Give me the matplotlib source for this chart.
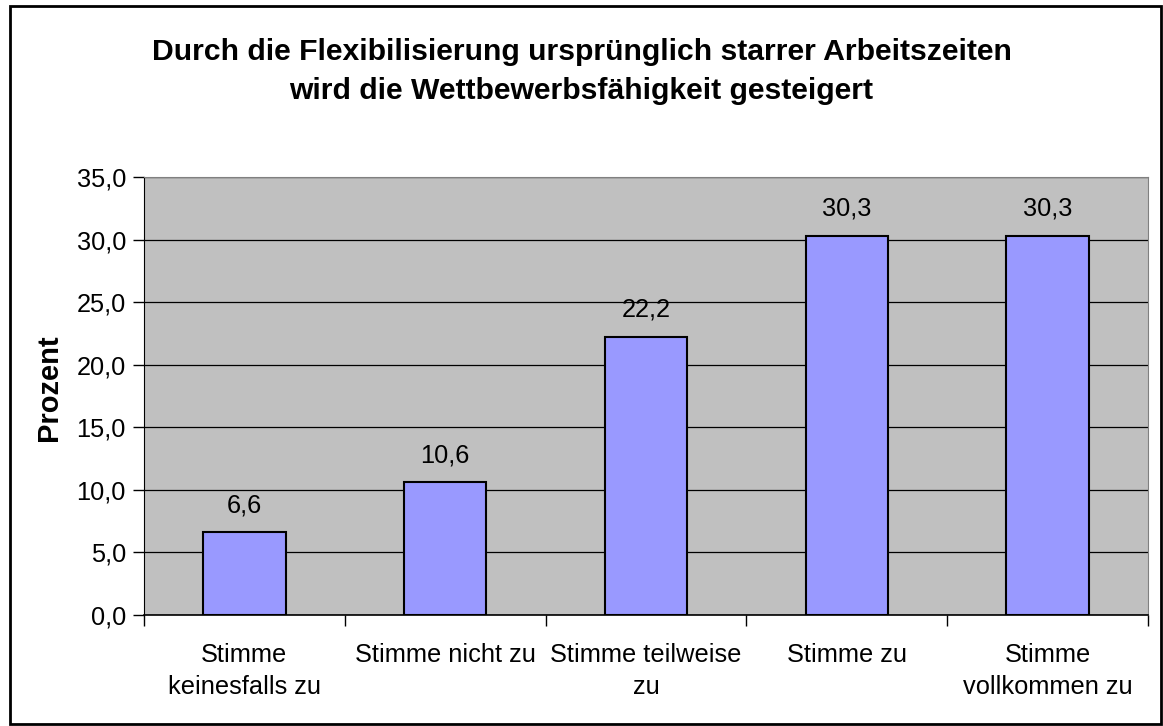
import numpy as np
import matplotlib.pyplot as plt

# Daten
kategorien = ['Stimme\nkeinesfalls zu', 'Stimme nicht zu', 'Stimme teilweise\nzu',
              'Stimme zu', 'Stimme\nvollkommen zu']
werte = [6.6, 10.6, 22.2, 30.3, 30.3]
y_ticks = [0, 5, 10, 15, 20, 25, 30, 35]

plt.rcParams['font.family'] = ['Liberation Sans', 'DejaVu Sans']

fig = plt.figure(figsize=(11.63, 7.26), dpi=100)
ax = fig.add_axes([0.1238, 0.1529, 0.8633, 0.6033])

# Rahmen um das ganze Diagramm
rahmen = plt.Rectangle((0.009, 0.003), 0.989, 0.989, transform=fig.transFigure,
                       fill=False, edgecolor='black', linewidth=2)
fig.patches.append(rahmen)

x = np.arange(len(werte))
ax.set_facecolor('#C0C0C0')
ax.bar(x, werte, width=0.41, color='#9999FF', edgecolor='black', linewidth=1.5, zorder=3)

for xi, v in zip(x, werte):
    ax.annotate(f'{v:.1f}'.replace('.', ','), (xi, v), xytext=(0, 11),
                textcoords='offset points', ha='center', va='bottom', fontsize=18.3)

ax.set_xlim(-0.5, 4.5)
ax.set_ylim(0, 35)
ax.set_yticks(y_ticks)
ax.set_yticklabels([f'{t:.1f}'.replace('.', ',') for t in y_ticks], fontsize=18.3)
ax.yaxis.grid(True, color='black', linewidth=0.9, zorder=1)
ax.set_axisbelow(True)

ax.set_xticks(np.arange(-0.5, 5, 1))
ax.set_xticklabels([])
ax.set_xticks(x, minor=True)
ax.set_xticklabels(kategorien, minor=True, fontsize=18.3, linespacing=1.45)
ax.tick_params(axis='x', which='minor', length=0, pad=20)
ax.tick_params(axis='x', which='major', length=8, direction='out', width=1)
ax.tick_params(axis='y', length=8, direction='out', width=1, pad=5)

for s in ['top', 'right']:
    ax.spines[s].set_color('#808080')
ax.spines['left'].set_color('black')
ax.spines['bottom'].set_color('black')
ax.spines['bottom'].set_linewidth(1.2)

ax.set_ylabel('Prozent', fontsize=21, fontweight='bold')
ax.yaxis.set_label_coords(-0.081, 0.52)

fig.text(0.5, 0.901, 'Durch die Flexibilisierung ursprünglich starrer Arbeitszeiten\n'
         'wird die Wettbewerbsfähigkeit gesteigert', ha='center', va='center',
         fontsize=21.7, fontweight='bold', linespacing=1.5)

fig.savefig('out.png', dpi=100)
